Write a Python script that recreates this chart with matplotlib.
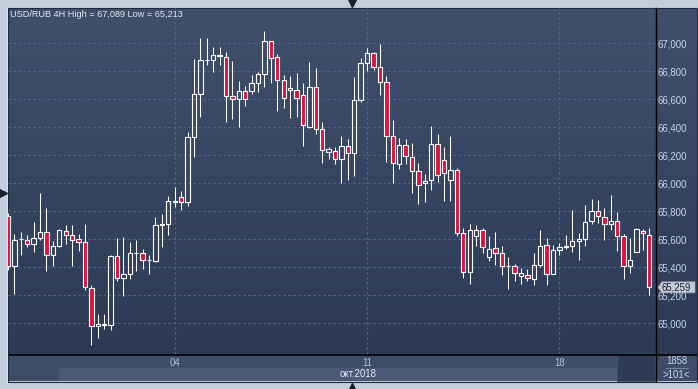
import matplotlib
matplotlib.use("Agg")
import matplotlib.pyplot as plt
import numpy as np
from matplotlib.patches import Rectangle, Polygon
from matplotlib.transforms import IdentityTransform

# ---------------- data ----------------
opens = [65769, 65407, 65600, 65598, 65567, 65610, 65652, 65488, 65550, 65660,
         65631, 65602, 65581, 65252, 64981, 64990, 64986, 65481, 65324, 65352,
         65500, 65505, 65450, 65443, 65705, 65710, 65870, 65902, 65864, 66329,
         66636, 66879, 66879, 66912, 66900, 66626, 66605, 66660, 66660, 66714,
         66779, 67014, 66900, 66738, 66664, 66667, 66629, 66402, 66686, 66386,
         66221, 66229, 66171, 66267, 66214, 66593, 66857, 66929, 66831, 66721,
         66336, 66136, 66271, 66186, 66086, 66000, 66024, 66279, 66164, 66021,
         66093, 65645, 65364, 65624, 65669, 65471, 65536, 65502, 65410, 65407,
         65338, 65345, 65317, 65414, 65560, 65352, 65524, 65548, 65552, 65590,
         65602, 65729, 65802, 65760, 65710, 65731, 65621, 65410, 65512, 65660,
         65631]
highs = [65790, 65640, 65652, 65633, 65726, 65931, 65826, 65590, 65676, 65705,
         65705, 65640, 65712, 65271, 65067, 65069, 65488, 65610, 65619, 65583,
         65593, 65533, 65490, 65757, 65779, 65912, 65976, 65945, 66364, 66888,
         67036, 67036, 66976, 66976, 66938, 66874, 66733, 66698, 66776, 66798,
         67088, 67016, 66924, 66776, 66767, 66790, 66717, 66869, 66824, 66438,
         66262, 66262, 66338, 66317, 66760, 66893, 66964, 66940, 66995, 66764,
         66452, 66324, 66319, 66286, 66143, 66067, 66410, 66352, 66260, 66338,
         66112, 65681, 65707, 65705, 65681, 65626, 65655, 65555, 65474, 65421,
         65395, 65390, 65505, 65669, 65610, 65560, 65574, 65633, 65812, 65645,
         65848, 65890, 65883, 65824, 65919, 65793, 65640, 65610, 65681, 65674,
         65681]
lows = [65380, 65212, 65490, 65543, 65507, 65593, 65374, 65412, 65543, 65567,
        65407, 65519, 65236, 64843, 64893, 64957, 64952, 65300, 65193, 65314,
        65376, 65386, 65350, 65436, 65543, 65629, 65831, 65807, 65836, 66186,
        66476, 66845, 66798, 66845, 66436, 66457, 66400, 66552, 66640, 66652,
        66686, 66714, 66519, 66540, 66464, 66476, 66269, 66393, 66355, 66148,
        66176, 66136, 66005, 66024, 66055, 66583, 66805, 66810, 66633, 66155,
        66000, 66105, 66136, 65933, 65855, 65864, 65950, 66012, 65871, 65871,
        65621, 65321, 65279, 65555, 65502, 65443, 65419, 65348, 65245, 65300,
        65283, 65300, 65274, 65402, 65274, 65350, 65490, 65531, 65507, 65450,
        65550, 65712, 65717, 65593, 65664, 65519, 65317, 65360, 65507, 65526,
        65205]
closes = [65407, 65598, 65602, 65567, 65610, 65652, 65488, 65550, 65667, 65631,
          65595, 65581, 65257, 64981, 64995, 64992, 65481, 65324, 65352, 65505,
          65505, 65452, 65452, 65705, 65710, 65874, 65874, 65864, 66329, 66638,
          66879, 66881, 66914, 66916, 66626, 66605, 66660, 66605, 66714, 66779,
          67014, 66893, 66736, 66612, 66679, 66612, 66414, 66686, 66386, 66236,
          66243, 66171, 66269, 66214, 66595, 66857, 66929, 66833, 66724, 66336,
          66143, 66271, 66193, 66086, 65986, 66014, 66281, 66057, 66076, 66095,
          65645, 65369, 65664, 65669, 65545, 65531, 65502, 65412, 65408, 65362,
          65360, 65324, 65417, 65552, 65352, 65526, 65543, 65552, 65590, 65602,
          65724, 65802, 65767, 65710, 65731, 65624, 65410, 65452, 65676, 65645,
          65257]
day_ticks = [26, 56, 86]
day_labels = ["04", "11", "18"]
y_ticks = [65000, 65200, 65400, 65600, 65800, 66000, 66200, 66400, 66600, 66800, 67000]
y_labels = ["65,000", "65,200", "65,400", "65,600", "65,800", "66,000",
            "66,200", "66,400", "66,600", "66,800", "67,000"]
title = "USD/RUB 4H High = 67,089 Low = 65,213"
month_label = "окт.2018"
last_label = "65,259"
bars_total = "1858"
bars_visible = ">101<"

# ---------------- figure ----------------
W, H = 698, 389
DPI = 100
plt.rcParams['font.family'] = ['Liberation Sans', 'DejaVu Sans']
fig = plt.figure(figsize=(W / DPI, H / DPI), dpi=DPI, facecolor='#c3cddb')

# background (pixel coordinates)
bg = fig.add_axes([0, 0, 1, 1])
bg.set_xlim(0, W)
bg.set_ylim(H, 0)
bg.axis('off')
grad = np.linspace(0, 1, 256).reshape(-1, 1)
top_c = np.array([0x40, 0x4f, 0x6b]) / 255
bot_c = np.array([0x2c, 0x3a, 0x56]) / 255
img = top_c[None, None, :] * (1 - grad[:, :, None]) + bot_c[None, None, :] * grad[:, :, None]
bg.imshow(img, extent=(8, 697, 354, 8), aspect='auto', zorder=0)
bg.add_patch(Rectangle((8, 354), 689, 27, facecolor='#3d4c67', edgecolor='none', zorder=1))
bg.add_patch(Rectangle((59, 368), 558, 13, facecolor='#4a5a76', edgecolor='none', zorder=2))
bg.add_patch(Rectangle((617, 355), 38, 26, facecolor='#2e3b56', edgecolor='#4a5670', lw=0.6, zorder=2))
bg.plot([8, 697], [354.5, 354.5], color='black', lw=1.2, zorder=3)
bg.plot([655.5, 655.5], [8, 381], color='black', lw=1.0, zorder=3)
bg.add_patch(Rectangle((7.5, 7.5), 689.5, 374, facecolor='none', edgecolor='#1f2a3e', lw=0.8, zorder=4))
bg.plot([6.5, 6.5], [7, 382], color='#e4e9f0', lw=0.6, zorder=4)
bg.plot([666, 688], [368, 368], color='#8c9ab0', lw=0.5, zorder=3)
bg.plot([352], [2.8], marker='v', color='#1a1f2a', markersize=6, zorder=5, clip_on=False)
bg.plot([352], [386.5], marker='^', color='#1a1f2a', markersize=6, zorder=5, clip_on=False)
bg.plot([3], [193], marker='>', color='#1a1f2a', markersize=6, zorder=5, clip_on=False)

# main axes
ax = fig.add_axes([8 / W, 1 - 354 / H, 647 / W, 346 / H])
ax.patch.set_alpha(0)
for s in ax.spines.values():
    s.set_visible(False)
ax.set_xlim(0.0, 100.9)
ax.set_ylim(64781, 67252)

n = len(opens)
x = np.arange(n)
o = np.array(opens, float)
c = np.array(closes, float)
h = np.array(highs, float)
l = np.array(lows, float)
body_top = np.maximum(o, c)
body_bot = np.minimum(o, c)
up = c >= o

wick_lw = 0.75
ax.vlines(x, body_top, h, color='white', lw=wick_lw, zorder=3)
ax.vlines(x, l, body_bot, color='white', lw=wick_lw, zorder=3)
face = ['none' if u else '#e3103a' for u in up]
ax.bar(x, body_top - body_bot, bottom=body_bot, width=0.68,
       color=face, edgecolor='white', linewidth=0.8, zorder=4)

ax.set_yticks(y_ticks)
ax.set_yticklabels(y_labels)
ax.yaxis.tick_right()
ax.tick_params(axis='y', length=0, pad=2.0, labelsize=6.9, labelcolor='#c6d5ec')
ax.set_xticks(day_ticks)
ax.set_xticklabels(day_labels)
ax.tick_params(axis='x', length=0, pad=2.6, labelsize=6.9, labelcolor='#a9c3ea')
ax.grid(True, color='#56668a', lw=0.8, linestyle=(0, (2, 2.5)), zorder=1)
ax.set_axisbelow(True)

# header
fig.text(10 / W, 1 - 14.5 / H, title, fontsize=6.6, color='#e2e8f2', va='center', ha='left')
# month and bar counts
fig.text(358 / W, 1 - 374 / H, month_label, fontsize=6.9, color='#e6ecf5', va='center', ha='center')
fig.text(676.5 / W, 1 - 361.5 / H, bars_total, fontsize=6.9, color='#c6d5ec', va='center', ha='center')
fig.text(676.5 / W, 1 - 374.5 / H, bars_visible, fontsize=6.9, color='#c6d5ec', va='center', ha='center')

# last price marker
fig.canvas.draw()
yp = ax.transData.transform((0, closes[-1]))[1]
xr = ax.transAxes.transform((1, 0))[0]
poly = Polygon([[xr + 3, yp], [xr + 7, yp + 5.5], [xr + 40, yp + 5.5],
                [xr + 40, yp - 5.5], [xr + 7, yp - 5.5]], closed=True,
               transform=IdentityTransform(), facecolor='#c3cad6', edgecolor='#9aa4b4',
               lw=0.5, zorder=10)
fig.artists.append(poly)
fig.text((xr + 6) / W, yp / H, last_label, fontsize=6.9, color='#1b2438',
         va='center', ha='left', zorder=11)

fig.savefig('out.png', dpi=DPI, facecolor=fig.get_facecolor())
